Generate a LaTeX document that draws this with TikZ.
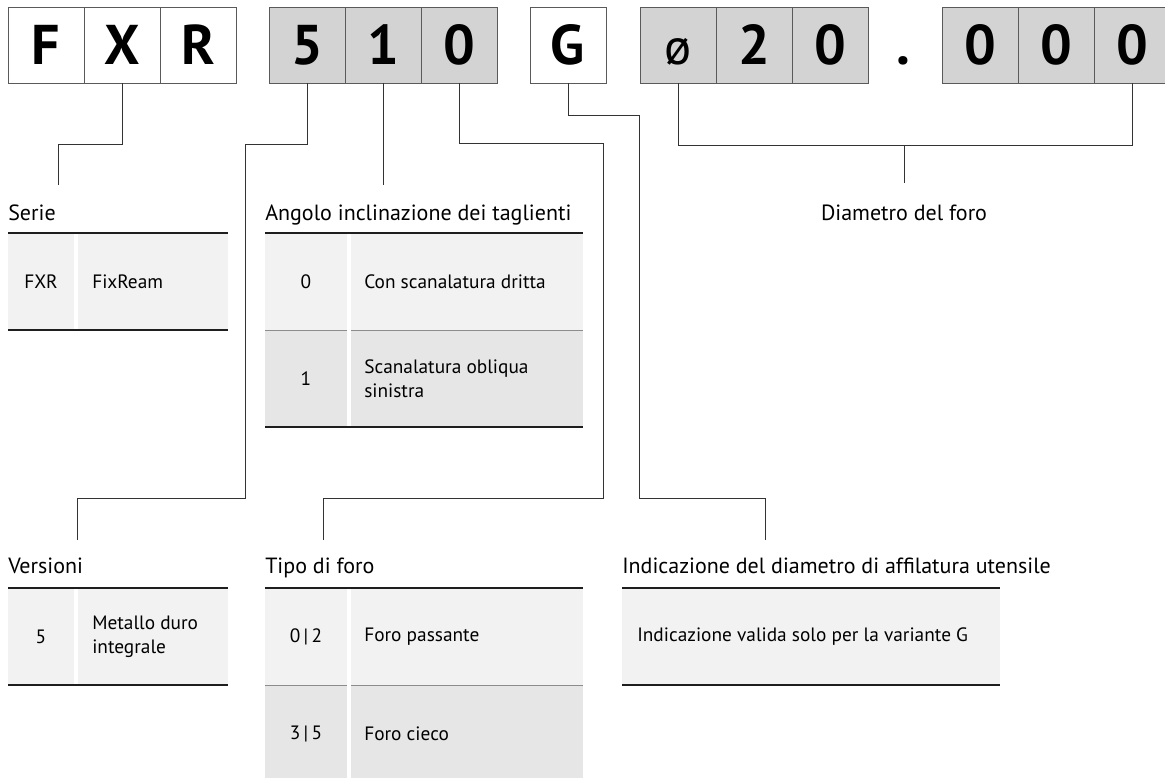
\documentclass[tikz,border=0pt]{standalone}
\usepackage{fontspec}
\setmainfont{PT Sans}
\usetikzlibrary{positioning}

\definecolor{boxgray}{HTML}{D3D3D3}
\definecolor{boxline}{HTML}{5A5A5A}
\definecolor{leadcol}{HTML}{333333}
\definecolor{rowa}{HTML}{F2F2F2}
\definecolor{rowb}{HTML}{E6E6E6}
\definecolor{rulecol}{HTML}{1E1E1E}
\definecolor{splitcol}{HTML}{8C8C8C}

\begin{document}
\begin{tikzpicture}[
  x=0.75pt, y=-0.75pt,
  letter/.style={draw=boxline, line width=0.75pt, rectangle,
                 inner sep=0pt, outer sep=0pt,
                 minimum width=57pt, minimum height=57pt,
                 text height=29pt, text depth=0pt,
                 font=\fontsize{42}{42}\selectfont\bfseries},
  lettergray/.style={letter, fill=boxgray},
  lead/.style={draw=leadcol, line width=0.75pt},
  heading/.style={anchor=base west, inner sep=0pt,
                  font=\fontsize{16.5}{20}\selectfont},
  keytext/.style={inner sep=0pt, font=\fontsize{14.5}{18}\selectfont},
  desctext/.style={keytext, anchor=west, align=left},
  rule/.style={draw=rulecol, line width=1.5pt},
  split/.style={draw=splitcol, line width=0.75pt}
]
\useasboundingbox (0,0) rectangle (1165,778);
\clip (0,0) rectangle (1165,778);

% code boxes
\node[letter] (cF) at (46,45) {F};
\node[letter, right=0pt of cF] (cX) {X};
\node[letter, right=0pt of cX] (cR) {R};
\node[lettergray] (c5) at (307,45) {5};
\node[lettergray, right=0pt of c5] (c1) {1};
\node[lettergray, right=0pt of c1] (c0) {0};
\node[letter] (cG) at (568,45) {G};
\node[lettergray, font=\fontsize{38}{38}\selectfont] (cDia) at (678,45) {ø};
\node[lettergray, right=0pt of cDia] (c2) {2};
\node[lettergray, right=0pt of c2] (c0a) {0};
\node[inner sep=0pt, text height=29pt, text depth=0pt,
      font=\fontsize{42}{42}\selectfont\bfseries] (dot) at (903,45) {.};
\node[lettergray] (c0b) at (980,45) {0};
\node[lettergray, right=0pt of c0b] (c0c) {0};
\node[lettergray, right=0pt of c0c] (c0d) {0};

% ends of the leaders
\coordinate (eSerie) at (58,185);
\coordinate (eAng) at (383,185);
\coordinate (eDia) at (904,183);
\coordinate (jDia) at (904,145);
\coordinate (eVers) at (77,540);
\coordinate (eTipo) at (323,540);
\coordinate (eInd) at (765,540);

% leaders
\draw[lead] (cX.south) -- ++(0,61) -| (eSerie);
\draw[lead] (c5.south) -- ++(0,61) -| (245,498) -| (eVers);
\draw[lead] (c1.south) -- (eAng);
\draw[lead] (c0.south) -- ++(0,60) -| (603,498) -| (eTipo);
\draw[lead] (cG.south) -- ++(0,32) -| (639,498) -| (eInd);
\draw[lead] (cDia.south) -- ++(0,62) -| (c0d.south);
\draw[lead] (jDia) -- (eDia);

% headings
\node[heading] (tSerie) at (8,220) {Serie};
\node[heading] (tAng) at (265,220) {Angolo inclinazione dei taglienti};
\node[heading, anchor=base] (tDia) at (904,220) {Diametro del foro};
\node[heading] (tVers) at (8,573) {Versioni};
\node[heading] (tTipo) at (265,573) {Tipo di foro};
\node[heading] (tInd) at (622,573) {Indicazione del diametro di affilatura utensile};

% Serie
\fill[rowa] (8,233) rectangle (74,330);
\fill[rowa] (78,233) rectangle (228,330);
\draw[rule] (8,233) -- (228,233);
\draw[rule] (8,330) -- (228,330);
\node[keytext] (kSerie) at (41,281.5) {FXR};
\node[desctext] (dSerie) at (92,281.5) {FixReam};

% Angolo
\fill[rowa] (265,233) rectangle (347,330);
\fill[rowa] (351,233) rectangle (583,330);
\fill[rowb] (265,330) rectangle (347,427);
\fill[rowb] (351,330) rectangle (583,427);
\draw[split] (265,330) -- (347,330);
\draw[split] (351,330) -- (583,330);
\draw[rule] (265,233) -- (583,233);
\draw[rule] (265,427) -- (583,427);
\node[keytext] (kAng0) at (306,281.5) {0};
\node[desctext] (dAng0) at (364,281.5) {Con scanalatura dritta};
\node[keytext] (kAng1) at (306,378.5) {1};
\node[desctext] (dAng1) at (364,378.5) {Scanalatura obliqua\\sinistra};

% Versioni
\fill[rowa] (8,588) rectangle (74,685);
\fill[rowa] (78,588) rectangle (228,685);
\draw[rule] (8,588) -- (228,588);
\draw[rule] (8,685) -- (228,685);
\node[keytext] (kVers) at (41,636.5) {5};
\node[desctext] (dVers) at (92,636.5) {Metallo duro\\integrale};

% Tipo di foro
\fill[rowa] (265,588) rectangle (347,685);
\fill[rowa] (351,588) rectangle (583,685);
\fill[rowb] (265,685) rectangle (347,782);
\fill[rowb] (351,685) rectangle (583,782);
\draw[split] (265,685) -- (347,685);
\draw[split] (351,685) -- (583,685);
\draw[rule] (265,588) -- (583,588);
\node[keytext] (kTipo0) at (306,636.5) {0\,|\,2};
\node[desctext] (dTipo0) at (364,636.5) {Foro passante};
\node[keytext] (kTipo1) at (306,733.5) {3\,|\,5};
\node[desctext] (dTipo1) at (364,733.5) {Foro cieco};

% Indicazione
\fill[rowa] (622,588) rectangle (1000,685);
\draw[rule] (622,588) -- (1000,588);
\draw[rule] (622,685) -- (1000,685);
\node[desctext] (dInd) at (637,636.5) {Indicazione valida solo per la variante G};
\end{tikzpicture}
\end{document}
